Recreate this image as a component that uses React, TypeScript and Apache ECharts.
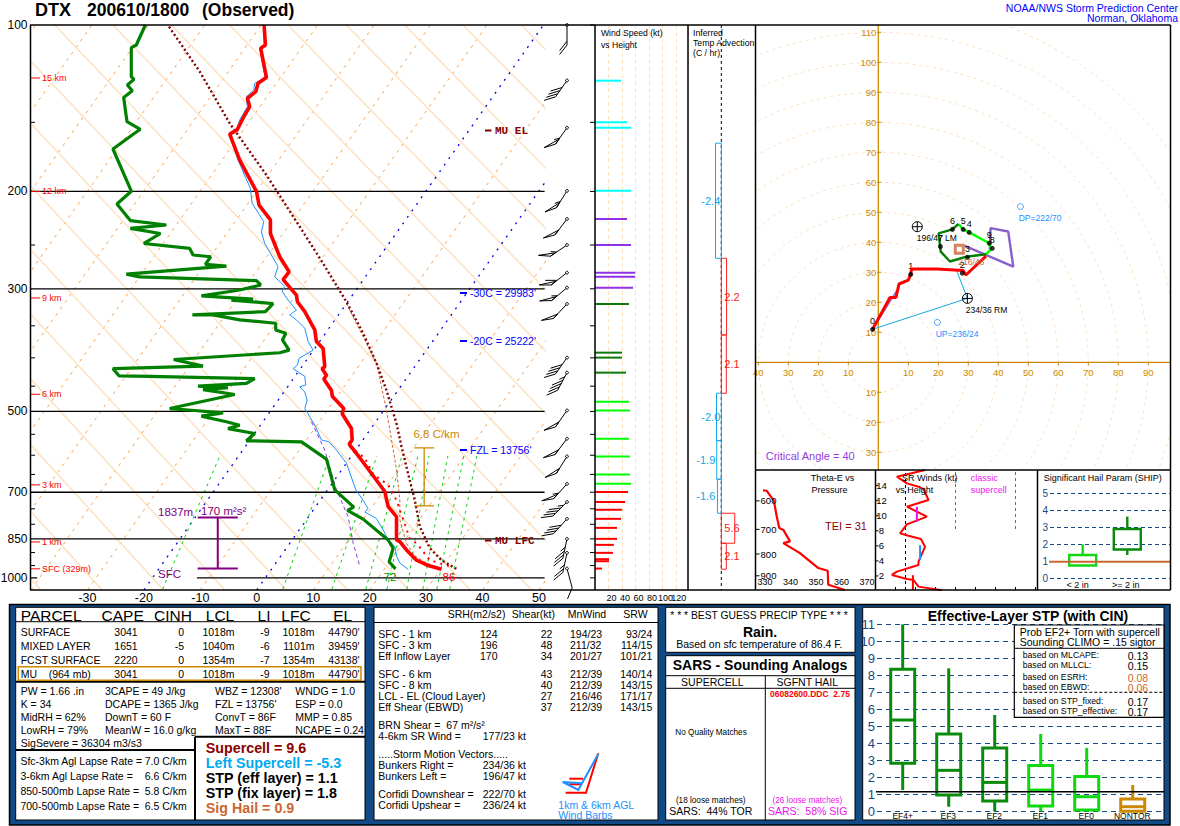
import React, { useEffect, useRef } from 'react';
import * as echarts from 'echarts';

// ---------- Skew-T data: [temperature read along the skewed bottom scale (C), pressure (mb)]
const temperature = [[1.3,100],[1.53,108.7],[0.7,110.2],[1.71,124.4],[0.23,127.5],[-0.18,132],[-1.66,135.7],[-1.25,140.5],[-2.13,145.5],[-3.49,154.8],[-4.79,157.5],[-3.02,175.5],[-0.06,200],[0.41,211.7],[2.42,225.2],[2.42,238.3],[4.07,262.5],[5.73,279.5],[4.67,288.7],[7.03,308],[7.2,316.7],[8.51,330],[10.28,356.1],[10.57,373.7],[11.76,384.7],[12.05,415],[11.58,418.5],[12.35,430],[11.88,437],[13.23,458],[13.41,470],[15.42,494],[15.13,505],[16.78,537],[16.9,563],[16.37,573],[18.55,612],[22.69,698],[23.28,743],[24.76,775],[24.76,854],[25.35,860],[26.53,890],[28.31,929],[30.37,950],[32.74,965]];
const dewpoint = [[-19.74,100],[-21.34,108.7],[-22.23,109.9],[-22.23,124],[-21.75,125.4],[-22.93,128.4],[-22.05,131.5],[-23.58,135.2],[-22.99,149.6],[-20.63,154.4],[-21.64,157],[-25.48,167.6],[-22.23,199.8],[-24.77,210.8],[-22.4,225.8],[-16.02,230],[-22.4,233.3],[-17.08,238.3],[-19.98,248.4],[-11.88,253.5],[-11.29,260.6],[-8.16,262.5],[-9.11,271],[-5.38,272.9],[-23.11,282.3],[-20.75,285.4],[-0.06,290],[0.7,295.3],[-3.02,301.5],[-9.81,309],[-0.65,313.2],[-4.5,314.5],[2.89,319],[1.53,330],[-11.41,334.5],[-7.75,334.5],[-3.02,341.5],[3.36,346.3],[3.36,356.1],[5.14,361],[4.55,371.3],[5.73,387.3],[4.07,391.6],[-14.72,402.7],[-9.52,414],[-25.48,418.5],[-24.41,431],[-18.98,432],[-0.36,436],[-1.84,445],[-10.41,450],[-5.09,453],[-9.52,456.6],[-3.91,466],[-15.43,494],[-11.59,497.5],[-5.97,503],[-9.81,510],[-5.38,522],[-3.02,529.5],[-5.09,537],[-0.36,548],[-1.84,565],[7.92,567.5],[12.35,610],[13.83,693],[17.19,745],[16.07,755],[18.85,783],[23.28,854],[24.17,884],[23.46,935],[24.58,963]];
const virtualTemp = [[1.24,100],[1.53,108.7],[0.53,110.2],[1.12,118.9],[1.53,124.4],[-0.36,127.5],[-0.54,131.1],[-1.84,134.8],[-1.66,140.5],[-3.02,148.5],[-3.49,153.7],[-4.91,157.5],[-3.31,175.5],[-1.13,197.5],[-0.83,210],[1.24,226.8],[0.82,236.6],[1.41,248.4],[3.78,273.5],[3.19,285.4],[4.96,297],[4.49,303],[5.55,314.5],[7.03,327.8],[5.85,334.5],[7.03,341.5],[8.51,353.7],[9.1,373.7],[9.98,387.3],[7.5,400.8],[7.21,412],[6.44,418.5],[8.51,432],[8.68,448],[7.62,451],[8.51,461],[8.92,477.5],[8.51,494],[9.1,505],[10.28,529.5],[11.46,563],[12.82,567.5],[14.12,587.5],[15.89,620],[17.55,693],[18.85,724],[19.74,750],[19.14,760],[21.21,781],[22.4,819],[23.28,854],[24.46,877],[24.76,913],[25.35,940],[26.83,965]];
const parcelTrace = [[-15.55,100.7],[-10.11,121.4],[-4.79,150.6],[1.71,186.8],[7.62,231.7],[11.76,270],[15.89,316.7],[18.85,361],[21.21,409],[22.99,458],[24.76,526],[25.65,579],[26.83,649],[28.01,724],[28.9,808],[30.67,884],[32.74,929],[35.1,960],[35.68,965]];
const mlParcelTrace = [[15.89,319],[21.21,409],[22.99,497.5],[24.76,636],[25.35,724],[25.35,785],[26.53,866],[28.01,913],[30.07,940],[32.44,960]];
const downdraftTrace = [[16.49,579],[19.14,607],[20.62,649],[23.28,679],[24.76,724],[27.12,849],[28.31,866],[30.67,929],[34.22,953]];
const wetBulbTrace = [[9.69,522],[12.05,587.5],[14.12,693],[16.19,775],[17.08,866],[18.26,953]];
const mixingBottom = [-16.67,4.61,13.3,19.33,23.05,26.6,29.43,31.91,34.2];
const mixingTop = [-6.56,12.94,21.28,25.71,28.55,30.5,33.86,36.7,39.0];
const pressureLabels = [100,200,300,500,700,850,1000];
const mandatoryLevels = [200,300,500,700,850];
const minorLevels = [150,250,350,400,450,550,600,650,750,800,900,950];
const heightLabels = ['15 km','12 km','9 km','6 km','3 km','1 km','SFC (329m)'];
const heightPressure = [124.7,200,311.7,465.5,678.9,861,963];
const srhLayer = [778,962];
const lapseLayer = [582,741];

// ---------- Wind data
const speedPressure = [126.1,150,153.4,199.5,224.3,250,280.5,285.2,298.6,319.5,391.4,399.6,425.4,480,498,560,603,650,676,699,729,753,782,812,850,871.6,901,925,933,962];
const speedKnots = [38.6,47.5,54,54,47.5,53.5,59.5,59.5,56.5,50.5,40,40,46,50.5,52,50.5,52,52,53.5,49,44.6,40,38.6,32.7,32.7,28,26.7,20.8,20.8,10.4];
const barbPressure = [100,126,153.4,199.5,224.3,250,280.5,298.6,319.5,399.6,425.4,498,560,603,676,729,782,850,901,962];
const barbSpeed = [20,39,54,54,50,54,60,56,50,40,46,52,50,52,54,45,40,33,27,10];
const barbDirection = [180,215,215,212,217,236,232,230,223,215,208,215,217,212,222,225,222,192,192,165];
const advTop = [163.6,264.2,363.6,463.5,564.6,663,764,865.6];
const advBottom = [264.2,363.6,463.5,564.6,663,764,865.6,964.6];
const advValue = [-2.4,2.2,2.1,-2.0,-1.9,-1.6,5.6,2.1];

// ---------- Hodograph data: [u, v] knots
const hodoLow = [[-1.9,11],[3.9,21.6],[5.9,21.6],[6.9,26.1],[10,27.4],[10.8,29.3],[11.1,31.1],[19.4,31.1],[28.3,30.6],[29.2,29.1],[35.9,35.4]];
const hodoMid = [[35.9,36],[29.4,35.2],[23.9,33.6],[20.8,36.9],[20.1,43],[24.7,44.3],[26.7,46.1]];
const hodoHigh = [[26.7,46.1],[28.3,44.3],[30.3,43.3],[37,39.7],[37.4,37.5],[35.9,36]];
const hodoCritical = [[28.8,38.8],[45,31.9],[43.3,43.6],[37.4,44.7],[37.2,37]];
const hodoInflow = [[-1.9,11],[6.1,23.8]];
const hodoStorm = [[-1.9,11],[29.7,21.3],[26.1,30.6]];
const hodoDots = [[-1.9,11],[10.8,29.3],[28,29.7],[29.7,35],[30.3,43.3],[28.3,44.3],[24.7,44.3],[20.7,38.6],[38,38],[37,39.7]];
const hodoDotLabels = ['0','1','2','3','4','5','6','7','8','9'];
const hodoRings = [10,20,30,40,50,60,70,80,90,100,110,120];
const hodoYTicks = [110,100,90,80,70,60,50,40,30,20,10,-10,-20,-30];
const hodoXTicks = [-40,-30,-20,-10,10,20,30,40,50,60,70,80,90];
const bunkersLeft = [13,45.2];
const bunkersRight = [29.7,21.3];
const corfidiDown = [47.4,51.9];
const corfidiUp = [19.7,13.3];
const meanWind = [27,37.7];

// ---------- Small panels
const thetaE = [[327,507.6],[327.6,526],[327,540],[327.4,550],[326.5,565],[330.7,568],[333.5,600],[334.6,653],[335.6,695],[337.2,702],[339.8,747],[337.2,754],[343.7,796],[350.9,863],[354.6,876],[354.8,945],[361.4,972]];
const thetaPressure = [600,700,800,900];
const srWinds = [[24.8,16.08],[10.7,15.19],[15.7,14.3],[21.5,13.86],[24,13.55],[26.5,12.09],[15.7,11.2],[25.7,9.88],[15.7,8.86],[12.3,7.66],[16.5,7.35],[22.7,6.91],[24.8,5.89],[21.5,3.9],[21.5,3.46],[10.7,2.57],[8.2,2.13],[15.7,1.59],[19,1.46],[21.5,0.58],[33.2,0.09]];
const srHeights = [14,12,10,8,6,4,2];
const shipBoxes = [[0,0.75,0.75,1.37,2],[1,1.37,1.69,2.9,3.63]];
const shipValue = 0.97;
const stpCategories = ['EF4+','EF3','EF2','EF1','EF0','NONTOR'];
const stpBoxes = [[0,1.25,2.82,8.35,11],[1,0.27,0.96,4.55,8.41],[2,0,0.61,3.73,5.67],[3,0,0.31,2.69,4.55],[4,0,0.08,2.04,3.73],[5,0,0,0.73,1.55]];
const stpMedians = [5.37,2.41,1.7,1.25,0.86,0.27];
const stpEffective = 1.15;

// ---------- Tables
const parcelHeader = ['PARCEL','CAPE','CINH','LCL','LI','LFC','EL'];
const parcelRows = [
  ['SURFACE','3041','0','1018m','-9','1018m',"44790'"],
  ['MIXED LAYER','1651','-5','1040m','-6','1101m',"39459'"],
  ['FCST SURFACE','2220','0','1354m','-7','1354m',"43138'"],
  ['MU    (964 mb)','3041','0','1018m','-9','1018m',"44790'"],
];
const indexRows = [
  ['PW = 1.66 .in','3CAPE = 49 J/kg',"WBZ = 12308'",'WNDG = 1.0'],
  ['K = 34','DCAPE = 1365 J/kg',"FZL = 13756'",'ESP = 0.0'],
  ['MidRH = 62%','DownT = 60 F','ConvT = 86F','MMP = 0.85'],
  ['LowRH = 79%','MeanW = 16.0 g/kg','MaxT = 88F','NCAPE = 0.24'],
];
const lapseRows = [
  ['Sfc-3km Agl Lapse Rate =','7.0 C/km'],
  ['3-6km Agl Lapse Rate =','6.6 C/km'],
  ['850-500mb Lapse Rate =','5.8 C/km'],
  ['700-500mb Lapse Rate =','6.5 C/km'],
];
const severeLines = ['Supercell = 9.6','Left Supercell = -5.3','STP (eff layer) = 1.1','STP (fix layer) = 1.8','Sig Hail = 0.9'];
const severeColors = ['#8b0000','#00aaf0','#000','#000','#cc6633'];
const shearHeader = ['SRH(m2/s2)','Shear(kt)','MnWind','SRW'];
const shearRows = [
  ['SFC - 1 km','124','22','194/23','93/24'],
  ['SFC - 3 km','196','48','211/32','114/15'],
  ['Eff Inflow Layer','170','34','201/27','101/21'],
  ['SFC - 6 km','','43','212/39','140/14'],
  ['SFC - 8 km','','40','212/39','143/15'],
  ['LCL - EL (Cloud Layer)','','27','216/46','171/17'],
  ['Eff Shear (EBWD)','','37','212/39','143/15'],
];
const motionRows = [
  ['BRN Shear =  67 m²/s²',''],
  ['4-6km SR Wind =','177/23 kt'],
  ['.....Storm Motion Vectors.....',''],
  ['Bunkers Right =','234/36 kt'],
  ['Bunkers Left =','196/47 kt'],
  ['Corfidi Downshear =','222/70 kt'],
  ['Corfidi Upshear =','236/24 kt'],
];
const probLabels = ['based on MLCAPE:','based on MLLCL:','based on ESRH:','based on EBWD:','based on STP_fixed:','based on STP_effective:'];
const probValues = ['0.13','0.15','0.08','0.06','0.17','0.17'];

const FONT = '"Liberation Sans", Arial, sans-serif';
const MONO = '"Liberation Mono", monospace';
const ORANGE = '#cc8800';
const PEACH = '#fde0bd';
const P_MAX = 1051.8;

const txt = (text: string, x: number, y: number, size = 10.5, fill = '#000', align = 'left', weight = 'normal', family = FONT, z = 30) => ({
  type: 'text', x, y, z, silent: true,
  style: { text, fill, font: `${weight} ${size}px ${family}`, align, verticalAlign: 'middle', textAlign: align, textVerticalAlign: 'middle' },
});
const rect = (x: number, y: number, w: number, h: number, fill: any, stroke: any = null, lw = 1, z = -1) => ({
  type: 'rect', z, silent: true, shape: { x, y, width: w, height: h }, style: { fill, stroke, lineWidth: lw },
});
const seg = (x1: number, y1: number, x2: number, y2: number, lw = 1.5, stroke = '#000', z = 12, dash?: number[]) => ({
  type: 'line', z, silent: true, shape: { x1, y1, x2, y2 }, style: { stroke, lineWidth: lw, lineDash: dash },
});
const poly = (points: number[][], stroke: string, lw: number) => ({
  type: 'polyline', z: 14, silent: true, shape: { points }, style: { stroke, lineWidth: lw, fill: 'none' },
});

const line = (grid: number, data: any[], color: string, width: number, dash?: any, z = 3, clip = true) => ({
  type: 'line', xAxisIndex: grid, yAxisIndex: grid, data, symbol: 'none', silent: true, clip, z,
  lineStyle: { color, width, type: dash || 'solid', cap: 'butt' }, animation: false,
});

const textEl = (text: string, x: number, y: number, size: number, fill: string, align = 'left') => ({
  type: 'text', x, y, silent: true,
  style: { text, fill, font: `${size}px ${FONT}`, align, verticalAlign: 'middle', textAlign: align, textVerticalAlign: 'middle' },
});
const lineEl = (x1: number, y1: number, x2: number, y2: number, stroke: string, lineWidth: number) => ({
  type: 'line', silent: true, shape: { x1, y1, x2, y2 }, style: { stroke, lineWidth },
});

// A tick mark with a label, placed through the axes of the grid.
const ticks = (grid: number, pts: number[][], labels: string[], o: any) => ({
  type: 'custom', xAxisIndex: grid, yAxisIndex: grid, clip: false, silent: true, z: 6, data: pts,
  renderItem: (p: any, api: any) => {
    const c = api.coord([api.value(0), api.value(1)]);
    const ch: any[] = [];
    if (o.tick) ch.push(lineEl(c[0] + o.tick[0], c[1] + o.tick[1], c[0] + o.tick[2], c[1] + o.tick[3], o.tickColor || o.color, o.tickWidth || 1));
    const label = labels[p.dataIndex];
    if (label) ch.push(textEl(label, c[0] + (o.dx || 0), c[1] + (o.dy || 0), o.size, o.color, o.align || 'left'));
    return { type: 'group', children: ch };
  },
});

const boxes = (grid: number, rows: number[][], medians: (number | null)[], colors: string[], width: number, lw: number) => ({
  type: 'custom', xAxisIndex: grid, yAxisIndex: grid, clip: false, silent: true, z: 5, data: rows,
  renderItem: (p: any, api: any) => {
    const x = api.value(0);
    const [cx, yLow] = api.coord([x, api.value(1)]);
    const yQ1 = api.coord([x, api.value(2)])[1];
    const yQ3 = api.coord([x, api.value(3)])[1];
    const yHigh = api.coord([x, api.value(4)])[1];
    const color = colors[p.dataIndex];
    const ch: any[] = [
      lineEl(cx, yHigh, cx, yQ3, color, lw),
      lineEl(cx, yQ1, cx, yLow, color, lw),
      { type: 'rect', silent: true, shape: { x: cx - width / 2, y: yQ3, width, height: yQ1 - yQ3 }, style: { fill: 'none', stroke: color, lineWidth: lw } },
    ];
    const m = medians[p.dataIndex];
    if (m !== null && m !== undefined) {
      const yM = api.coord([x, m])[1];
      ch.push(lineEl(cx - width / 2, yM, cx + width / 2, yM, color, lw));
    }
    return { type: 'group', children: ch };
  },
});

const speedColor = (p: number) => (p >= 699 ? '#ff0000' : p >= 480 ? '#00ff00' : p >= 319 ? '#0a780a' : p >= 205 ? '#9030e8' : '#00ffff');

const barbs = {
  type: 'custom', xAxisIndex: 1, yAxisIndex: 1, clip: false, silent: true, z: 6,
  data: barbPressure.map((p, i) => [0.44, p, barbSpeed[i], barbDirection[i]]),
  renderItem: (_: any, api: any) => {
    const [x0, y0] = api.coord([api.value(0), api.value(1)]);
    const speed = api.value(2);
    const a = ((api.value(3) - 180) * Math.PI) / 180;
    const ux = -Math.sin(a), uy = Math.cos(a);
    const r = (38 * Math.PI) / 180;
    const fx = ux * Math.cos(r) - uy * Math.sin(r), fy = ux * Math.sin(r) + uy * Math.cos(r);
    const L = 20;
    const F = 12;
    const ch: any[] = [lineEl(x0, y0, x0 + ux * L, y0 + uy * L, '#000', 1), { type: 'circle', silent: true, shape: { cx: x0, cy: y0, r: 1.4 }, style: { fill: '#fff', stroke: '#000', lineWidth: 1 } }];
    let d = L;
    let rest = Math.round(speed / 5) * 5;
    while (rest >= 50) {
      const a1 = [x0 + ux * d, y0 + uy * d];
      const a2 = [x0 + ux * (d - 6), y0 + uy * (d - 6)];
      ch.push({ type: 'polygon', silent: true, shape: { points: [a1, [a1[0] + fx * F, a1[1] + fy * F], a2] }, style: { fill: 'none', stroke: '#000', lineWidth: 1 } });
      d -= 7.5; rest -= 50;
    }
    while (rest >= 10) {
      ch.push(lineEl(x0 + ux * d, y0 + uy * d, x0 + ux * d + fx * F, y0 + uy * d + fy * F, '#000', 1));
      d -= 3.8; rest -= 10;
    }
    if (rest >= 5) ch.push(lineEl(x0 + ux * d, y0 + uy * d, x0 + ux * d + fx * F * 0.5, y0 + uy * d + fy * F * 0.5, '#000', 1));
    return { type: 'group', children: ch };
  },
};

const speedBars = {
  type: 'custom', xAxisIndex: 2, yAxisIndex: 2, clip: false, silent: true, z: 5,
  data: speedPressure.map((p, i) => [speedKnots[i], p]),
  renderItem: (_: any, api: any) => {
    const [x1, y] = api.coord([api.value(0), api.value(1)]);
    const x0 = api.coord([0, api.value(1)])[0];
    return lineEl(x0, y, x1, y, speedColor(api.value(1)), 2);
  },
};

const advection = {
  type: 'custom', xAxisIndex: 3, yAxisIndex: 3, clip: false, silent: true, z: 5,
  data: advValue.map((v, i) => [v, advTop[i], advBottom[i]]),
  renderItem: (_: any, api: any) => {
    const v = api.value(0);
    const [xv, yt] = api.coord([v, api.value(1)]);
    const [x0, yb] = api.coord([0, api.value(2)]);
    const color = v < 0 ? '#10a8e8' : '#ff2020';
    const lx = v < 0 ? (v <= -2 ? x0 - 1 : x0 - 6) : x0 + 3;
    return {
      type: 'group',
      children: [
        { type: 'rect', silent: true, shape: { x: Math.min(xv, x0), y: yt, width: Math.abs(xv - x0), height: yb - yt }, style: { fill: 'none', stroke: color, lineWidth: 1 } },
        textEl(v.toFixed(1), lx, (yt + yb) / 2, 11, color, v < 0 ? 'right' : 'left'),
      ],
    };
  },
};

const markers = {
  type: 'custom', xAxisIndex: 4, yAxisIndex: 4, clip: false, silent: true, z: 9,
  data: [bunkersLeft, bunkersRight],
  renderItem: (_: any, api: any) => {
    const [cx, cy] = api.coord([api.value(0), api.value(1)]);
    return {
      type: 'group',
      children: [
        { type: 'circle', silent: true, shape: { cx, cy, r: 5 }, style: { fill: 'none', stroke: '#000', lineWidth: 1 } },
        lineEl(cx - 5, cy, cx + 5, cy, '#000', 1),
        lineEl(cx, cy - 5, cx, cy + 5, '#000', 1),
      ],
    };
  },
};
const scatter = (grid: number, data: number[][], style: any, size: number, symbol = 'circle', z = 8) => ({
  type: 'scatter', xAxisIndex: grid, yAxisIndex: grid, data, symbol, symbolSize: size, silent: true, itemStyle: style, z, clip: false,
});

const ring = (r: number) => {
  const pts: number[][] = [];
  for (let a = 0; a <= 360; a += 4) pts.push([r * Math.cos((a * Math.PI) / 180), r * Math.sin((a * Math.PI) / 180)]);
  return pts;
};

const option = (): any => {
  const grids = [
    { left: 31, top: 25, width: 513.6, height: 565 },
    { left: 545, top: 25, width: 50, height: 565 },
    { left: 595, top: 25, width: 93, height: 565 },
    { left: 688, top: 25, width: 67.5, height: 565 },
    { left: 755.5, top: 25, width: 415, height: 445 },
    { left: 765, top: 470, width: 102, height: 120 },
    { left: 875.5, top: 470, width: 162, height: 120 },
    { left: 1050, top: 493.3, width: 120.5, height: 85 },
    { left: 877, top: 624.3, width: 287, height: 187 },
  ];
  const hidden = { show: false };
  const pAxis = (i: number) => ({ type: 'log', logBase: 10, min: 100, max: P_MAX, inverse: true, gridIndex: i, ...hidden });
  const xAxis: any[] = [
    { type: 'value', gridIndex: 0, min: -40, max: 51, interval: 10, axisLine: hidden, axisTick: hidden, splitLine: hidden,
      axisLabel: { fontFamily: FONT, fontSize: 12.5, color: '#000', margin: 1, formatter: (v: number) => (v === -40 || v % 10 !== 0 ? '' : String(v)), showMinLabel: true, hideOverlap: false } },
    { type: 'value', gridIndex: 1, min: 0, max: 1, ...hidden },
    { type: 'value', gridIndex: 2, min: 0, max: 138, interval: 20, axisLine: hidden, axisTick: hidden,
      splitLine: { show: true, lineStyle: { color: PEACH, type: [4, 3], width: 1 } },
      axisLabel: { fontFamily: FONT, fontSize: 9, color: '#000', margin: 3, padding: [0, 0, 0, 6], formatter: (v: number) => (v === 0 || v % 20 !== 0 ? '' : String(v)), hideOverlap: false } },
    { type: 'value', gridIndex: 3, min: -13.875, max: 14.25, ...hidden },
    { type: 'value', gridIndex: 4, min: -40.93, max: 97.4, ...hidden },
    { type: 'value', gridIndex: 5, min: 330, max: 370, interval: 10, axisLine: hidden, axisTick: hidden, splitLine: hidden,
      axisLabel: { inside: true, fontFamily: FONT, fontSize: 9, color: '#000', margin: 4, hideOverlap: false, showMinLabel: true, showMaxLabel: true } },
    { type: 'value', gridIndex: 6, min: 0, max: 81, interval: 10, axisLine: hidden, splitLine: hidden, axisLabel: hidden,
      axisTick: { show: true, inside: true, length: 3, lineStyle: { color: '#000' } } },
    { type: 'value', gridIndex: 7, min: -0.733, max: 1.969, ...hidden },
    { type: 'value', gridIndex: 8, min: -0.559, max: 5.68, ...hidden },
  ];
  const yAxis: any[] = [
    pAxis(0), pAxis(1), pAxis(2), pAxis(3),
    { type: 'value', gridIndex: 4, min: -35.9, max: 112.43, ...hidden },
    { type: 'log', logBase: 10, min: 507.6, max: 972, inverse: true, gridIndex: 5, ...hidden },
    { type: 'value', gridIndex: 6, min: 0.13, max: 16.08, ...hidden },
    { type: 'value', gridIndex: 7, min: 0, max: 5, interval: 1, axisLine: hidden, axisTick: hidden,
      splitLine: { show: true, lineStyle: { color: '#114a87', type: [4, 3], width: 1 } },
      axisLabel: { fontFamily: FONT, fontSize: 10, color: '#114a87', margin: 2, hideOverlap: false } },
    { type: 'value', gridIndex: 8, min: 0, max: 11, interval: 1, axisLine: hidden, axisTick: hidden,
      splitLine: { show: true, lineStyle: { color: '#114a87', type: [5, 4], width: 1 } },
      axisLabel: { fontFamily: FONT, fontSize: 13, color: '#114a87', margin: 2, hideOverlap: false } },
  ];

  const series: any[] = [];
  // skew-T background
  const skewSpan = 70.8;
  for (let t = -110; t <= 50; t += 10) {
    const blue = t === -20 || t === 0;
    series.push(line(0, [[t, P_MAX], [t + skewSpan, 100]], blue ? '#0000e6' : '#f9a050', blue ? 1.3 : 1, blue ? [2, 6] : [3, 5], blue ? 2 : 1));
  }
  for (let k = -10; k <= 10; k++) {
    series.push(line(0, [[(55 + 58.3 * k - 257) / 5.64, 100], [(593 + 61.3 * k - 257) / 5.64, P_MAX]], PEACH, 1.4, 'solid', 1));
  }
  mixingBottom.forEach((b, i) => series.push(line(0, [[b, 1048], [mixingTop[i], 602]], '#10d010', 1, [3, 4], 2)));
  mandatoryLevels.forEach((p) => series.push(line(0, [[-40, p], [51, p]], '#000', 1.3, 'solid', 3)));
  series.push(line(0, [[-10.6, 1000], [51, 1000]], '#000', 1.3, 'solid', 3));
  series.push(line(0, [[-40, 1000], [-38.9, 1000]], '#000', 1.3, 'solid', 3));
  series.push(ticks(0, minorLevels.map((p) => [-40, p]), minorLevels.map(() => ''), { tick: [-1, 0, 4, 0], color: '#000', size: 10 }));
  series.push(ticks(1, minorLevels.concat(mandatoryLevels, [100, 1000]).map((p) => [1, p]), minorLevels.concat(mandatoryLevels, [100, 1000]).map(() => ''), { tick: [-5, 0, 0, 0], color: '#000', size: 10 }));
  series.push(ticks(0, pressureLabels.map((p) => [-40, p]), pressureLabels.map(String), { dx: -3.5, dy: 0, size: 12, color: '#000', align: 'right' }));
  series.push(ticks(0, heightPressure.map((p) => [-40, p]), heightLabels, { tick: [-1, 0, 9, 0], dx: 11, size: 9, color: '#ff0000' }));
  // profile lines
  series.push(line(0, wetBulbTrace, '#8a3fe0', 1, [4, 3], 4));
  series.push(line(0, mlParcelTrace, '#cc6633', 1, [3, 2], 4));
  series.push(line(0, downdraftTrace, '#ff0000', 2, [2, 5], 4));
  series.push(line(0, parcelTrace, '#800000', 2.4, [2, 2.5], 4));
  series.push(line(0, virtualTemp, '#1e90ff', 1, 'solid', 5));
  series.push(line(0, dewpoint, '#008000', 3.2, 'solid', 6));
  series.push(line(0, temperature, '#ff0000', 3.6, 'solid', 7));
  // layer bars
  const bar = (x: number, top: number, bottom: number, half: number) => [[x - half, top], [x + half, top], [x, top], [x, bottom], [x - half, bottom], [x + half, bottom]];
  series.push(line(0, bar(-6.91, srhLayer[0], srhLayer[1], 3.55), '#800080', 2, 'solid', 8));
  series.push(line(0, bar(29.66, lapseLayer[0], lapseLayer[1], 1.77), ORANGE, 1.3, 'solid', 8));
  // winds
  series.push(barbs, speedBars);
  series.push(line(3, [[0, 100], [0, P_MAX]], '#000', 1, [3, 3], 3));
  series.push(advection);
  // hodograph
  hodoRings.forEach((r) => series.push(line(4, ring(r), PEACH, 1, [3, 4], 1)));
  series.push(line(4, [[0, -35.9], [0, 112.43]], ORANGE, 1.3, 'solid', 2));
  series.push(line(4, [[-40.93, 0], [97.4, 0]], ORANGE, 1.3, 'solid', 2));
  series.push(ticks(4, hodoYTicks.map((v) => [0, v]), hodoYTicks.map((v) => String(Math.abs(v))), { tick: [-1, 0, 3, 0], dx: -2, size: 9.5, color: ORANGE, align: 'right' }));
  series.push(ticks(4, hodoXTicks.map((v) => [v, 0]), hodoXTicks.map((v) => String(Math.abs(v))), { tick: [0, 0, 0, 3], dy: 10, size: 9.5, color: ORANGE, align: 'center' }));
  series.push(line(4, hodoInflow, '#9060d8', 1.5, 'solid', 3));
  series.push(line(4, hodoStorm, '#10a8e0', 1, 'solid', 4));
  series.push(line(4, hodoCritical, '#8a60cc', 2.4, 'solid', 3));
  series.push(line(4, hodoHigh, '#00ff00', 2.4, 'solid', 4));
  series.push(line(4, hodoMid, '#008000', 2.4, 'solid', 5));
  series.push(line(4, hodoLow, '#ff0000', 3, 'solid', 6));
  series.push(scatter(4, hodoDots, { color: '#000' }, 5));
  series.push(ticks(4, hodoDots, hodoDotLabels, { dy: -8, size: 9, color: '#000', align: 'center' }));
  series.push(markers);
  series.push(scatter(4, [corfidiDown, corfidiUp], { color: '#fff', borderColor: '#1e90ff', borderWidth: 1 }, 6));
  series.push(scatter(4, [meanWind], { color: 'rgba(0,0,0,0)', borderColor: '#cc6633', borderWidth: 3 }, 8, 'rect', 9));
  // theta-e
  series.push(line(5, thetaE, '#ff0000', 2.2, 'solid', 4, false));
  series.push(ticks(5, thetaPressure.map((p) => [326.3, p]), thetaPressure.map(String), { tick: [0, 0, 4, 0], dx: 5, size: 9.5, color: '#000' }));
  // storm-relative winds
  series.push(line(6, [[15, 0.13], [15, 16.08]], '#000', 1, [3, 3], 2));
  series.push(line(6, [[40, 8.24], [40, 16.08]], '#ee10ee', 1, [3, 3], 2));
  series.push(line(6, [[70, 8.24], [70, 16.08]], '#ee10ee', 1, [3, 3], 2));
  series.push(line(6, srWinds, '#ff0000', 2, 'solid', 4));
  series.push(line(6, [[20.7, 11.2], [20.7, 9.2]], '#ee10ee', 2, 'solid', 5));
  series.push(line(6, [[22.3, 6.1], [22.3, 4.1]], '#1e90ff', 2, 'solid', 5));
  series.push(line(6, [[18.7, 2.1], [18.7, 0.13]], '#ff0000', 2, 'solid', 5));
  series.push(ticks(6, srHeights.map((h) => [0, h]), srHeights.map(String), { tick: [0, 0, 3, 0], dx: 6, size: 9.5, color: '#000', align: 'center' }));
  // SHIP
  series.push(boxes(7, shipBoxes, [null, null], ['#10d810', '#0a8a0a'], 27, 2.4));
  series.push(line(7, [[-1.013, shipValue], [1.969, shipValue]], '#cc6633', 2, 'solid', 6, false));
  // STP
  series.push(boxes(8, stpBoxes, stpMedians, ['#0a8a0a', '#0a8a0a', '#0a8a0a', '#10d810', '#10d810', '#cc8800'], 24, 3));
  series.push(line(8, [[-0.87, stpEffective], [5.68, stpEffective]], '#000', 1.6, 'solid', 6, false));

  // ---------- page furniture
  const g: any[] = [];
  g.push(txt('DTX', 35, 10, 18, '#000', 'left', 'bold'));
  g.push(txt('200610/1800', 87, 10, 17.5, '#000', 'left', 'bold'));
  g.push(txt('(Observed)', 202, 10, 17.5, '#000', 'left', 'bold'));
  g.push(txt('NOAA/NWS Storm Prediction Center', 1178, 8, 10.5, '#0000ff', 'right'));
  g.push(txt('Norman, Oklahoma', 1178, 17.5, 10.5, '#0000ff', 'right'));
  // frames
  g.push(seg(30, 25, 1170.5, 25), seg(30, 590, 1170.5, 590), seg(30.5, 25, 30.5, 590));
  g.push(seg(595, 25, 595, 590), seg(688, 25, 688, 590), seg(755.5, 25, 755.5, 590), seg(1170.5, 25, 1170.5, 590));
  g.push(seg(755.5, 470, 1170.5, 470), seg(875.5, 470, 875.5, 590), seg(1037.5, 470, 1037.5, 590));
  // skew-T annotations
  g.push(seg(485, 130.5, 491.5, 130.5, 2, '#800000'), txt('MU EL', 495, 130.5, 11, '#800000', 'left', 'bold', MONO));
  g.push(seg(485, 540.5, 491.5, 540.5, 2, '#800000'), txt('MU LFC', 495, 540.5, 11, '#800000', 'left', 'bold', MONO));
  g.push(seg(460, 293, 467, 293, 2, '#0000ff'), txt("-30C = 29983'", 470, 293, 10.5, '#0000ff'));
  g.push(seg(460, 341, 467, 341, 2, '#0000ff'), txt("-20C = 25222'", 470, 341, 10.5, '#0000ff'));
  g.push(seg(460, 450, 467, 450, 2, '#0000ff'), txt("FZL = 13756'", 470, 450, 10.5, '#0000ff'));
  g.push(txt('6.8 C/km', 413.5, 434, 11.5, ORANGE));
  g.push(txt('1837m', 158, 512, 11.5, '#800080'), txt('170 m²s²', 201, 511, 11.5, '#800080'), txt('SFC', 158, 573.5, 11.5, '#800080'));
  g.push(txt('72', 383.5, 577, 11.5, '#0a8a0a'), txt('86', 442.5, 577, 11.5, '#ff0000'));
  // wind panel titles
  g.push(txt('Wind Speed (kt)', 601, 33, 8.6), txt('vs Height', 601, 45, 8.6));
  g.push(txt('Inferred', 693, 33, 8.7), txt('Temp Advection', 693, 43, 8.7), txt('(C / hr)', 693, 52.5, 8.7));
  // hodograph annotations
  g.push(txt('196/47 LM', 916.7, 238, 8.5), txt('234/36 RM', 965.7, 310, 8.5));
  g.push(txt('DP=222/70', 1018.7, 218, 8.5, '#1e90ff'), txt('UP=236/24', 935.7, 334, 8.5, '#1e90ff'));
  g.push(txt('216/46', 958.3, 261.7, 8.5, '#cc6633'));
  g.push(txt('Critical Angle = 40', 765.7, 456, 11, '#9040e0'));
  // small panels
  g.push(txt('Theta-E vs', 810.7, 478, 9), txt('Pressure', 811.5, 490, 9), txt('TEI = 31', 825, 526, 11, '#8b0000'));
  g.push(txt('SR Winds (kt)', 902, 478, 9), txt('vs Height', 895.7, 490, 9));
  g.push(txt('classic', 970.7, 478, 9, '#ee10ee'), txt('supercell', 970.7, 490, 9, '#ee10ee'));
  g.push(txt('Significant Hail Param (SHIP)', 1102.7, 478, 9, '#000', 'center'));
  g.push(txt('< 2 in', 1077.7, 585, 9, '#000', 'center'), txt('>= 2 in', 1125.7, 585, 9, '#000', 'center'));
  // lower panels
  g.push(rect(9.5, 604.5, 1160.5, 220.5, '#114a87', '#000', 1.5));
  g.push(rect(15.7, 607.3, 349.3, 212.7, '#fff', '#000', 1, -1));
  g.push(rect(374, 607.3, 284, 212.7, '#fff', '#000', 1, -1));
  g.push(rect(665.7, 607.3, 189.3, 45, '#fff', '#000', 1, -1));
  g.push(rect(665.7, 655.7, 189.3, 164.3, '#fff', '#000', 1, -1));
  g.push(rect(862.7, 607.3, 301.3, 212.7, '#fff', '#000', 1, -1));
  // parcel table
  const pCols = [20.7, 122.7, 173, 220, 264, 296, 342.7];
  parcelHeader.forEach((h, i) => g.push(txt(h, pCols[i], 615.5, 15.5, '#000', i === 0 ? 'left' : 'center')));
  g.push(seg(16, 621.7, 365, 621.7, 1));
  const rowY = [632, 646, 660, 674];
  const rowX: [number, string][] = [[20.7, 'left'], [137.7, 'right'], [184, 'right'], [234.5, 'right'], [269.5, 'right'], [314.5, 'right'], [359.5, 'right']];
  parcelRows.forEach((r, j) => r.forEach((c, i) => g.push(txt(c, rowX[i][0], rowY[j], 10.5, '#000', rowX[i][1]))));
  g.push(rect(18.3, 666.7, 342.7, 13.5, 'none', ORANGE, 1.5, 13));
  g.push(seg(16, 681.7, 365, 681.7, 2));
  const iCols = [20.7, 105, 215, 295.3];
  const iY = [691.3, 704.3, 717.3, 730.3];
  indexRows.forEach((r, j) => r.forEach((c, i) => g.push(txt(c, iCols[i], iY[j], 10.5))));
  g.push(txt('SigSevere = 36304 m3/s3', 20.7, 743.3, 10.5));
  g.push(seg(16, 750, 195, 750, 2), seg(195, 736.7, 195, 820, 2), seg(195, 736.7, 365, 736.7, 2));
  const lY = [761.3, 776.3, 791.3, 806.3];
  lapseRows.forEach((r, j) => { g.push(txt(r[0], 20.4, lY[j], 10.5), txt(r[1], 144.7, lY[j], 10.5)); });
  const sY = [747.7, 763, 778, 793, 808];
  severeLines.forEach((s, i) => g.push(txt(s, 205.7, sY[i], 14.3, severeColors[i], 'left', 'bold')));
  // shear table
  const hX = [447.7, 511.7, 567.7, 623.3];
  shearHeader.forEach((h, i) => g.push(txt(h, hX[i], 614.3, 10.5)));
  g.push(seg(374, 622.5, 658, 622.5, 1));
  const sRowY = [634.3, 645, 656, 674, 685, 696, 707];
  shearRows.forEach((r, j) => {
    g.push(txt(r[0], 378.3, sRowY[j], 10.5));
    g.push(txt(r[1], 480, sRowY[j], 10.5), txt(r[2], 540.7, sRowY[j], 10.5), txt(r[3], 570, sRowY[j], 10.5), txt(r[4], 652.3, sRowY[j], 10.5, '#000', 'right'));
  });
  const mRowY = [725, 736, 754, 765, 776, 794, 805];
  motionRows.forEach((r, j) => {
    g.push(txt(r[0], 378.3, mRowY[j], 10.5));
    if (r[1]) g.push(txt(r[1], 482.7, mRowY[j], 10.5));
  });
  g.push(poly([[598.3, 753.3], [586, 792.7], [565.7, 792.7]], '#ff0000', 2));
  g.push(seg(569.3, 778.7, 583.3, 778.7, 2, '#ff0000', 14), seg(569.3, 784.3, 581.7, 784.3, 2, '#ff0000', 14));
  g.push(poly([[598.3, 754], [578.3, 790], [562.7, 782], [581.7, 783.3]], '#1e90ff', 2));
  g.push(txt('1km & 6km AGL', 558.3, 805, 10.5, '#1e90ff'), txt('Wind Barbs', 558.3, 815, 10.5, '#1e90ff'));
  // precip + SARS
  g.push(txt('* * * BEST GUESS PRECIP TYPE * * *', 759, 615.7, 10.3, '#000', 'center'));
  g.push(txt('Rain.', 760, 631.7, 14, '#000', 'center', 'bold'));
  g.push(txt('Based on sfc temperature of 86.4 F.', 759.3, 644.3, 10.5, '#000', 'center'));
  g.push(txt('SARS - Sounding Analogs', 760, 665, 14, '#000', 'center', 'bold'));
  g.push(seg(665.7, 675.7, 855, 675.7, 1), seg(665.7, 688.3, 855, 688.3, 1), seg(765.3, 675.7, 765.3, 820, 1));
  g.push(txt('SUPERCELL', 712.3, 682, 10.5, '#000', 'center'), txt('SGFNT HAIL', 807.3, 682, 10.5, '#000', 'center'));
  g.push(txt('06082600.DDC  2.75', 770, 694, 8.5, '#ff0000', 'left', 'bold'));
  g.push(txt('No Quality Matches', 711, 732.7, 8.2, '#000', 'center'));
  g.push(txt('(18 loose matches)', 710.7, 800, 8.2, '#000', 'center'), txt('(26 loose matches)', 807.3, 800, 8.2, '#ee10ee', 'center'));
  g.push(txt('SARS:  44% TOR', 710.7, 811.3, 10.5, '#000', 'center'), txt('SARS:  58% SIG', 807.7, 811.3, 10.5, '#ee10ee', 'center'));
  // STP panel
  g.push(txt('Effective-Layer STP (with CIN)', 1028, 615.7, 14, '#000', 'center', 'bold'));
  const catX = [902.7, 948.3, 994.3, 1040.3, 1086.3, 1132.3];
  stpCategories.forEach((c, i) => g.push(txt(c, catX[i], 816, 8.5, '#000', 'center')));
  g.push(rect(1014.3, 625, 149.7, 92.3, '#fff', '#000', 1.2, 25));
  g.push(txt('Prob EF2+ Torn with supercell', 1019.7, 632, 10.5), txt('Sounding CLIMO = .15 sigtor', 1019.7, 642.3, 10.5));
  g.push(seg(1014.3, 648.3, 1164, 648.3, 1, '#000', 26), seg(1014.3, 692.3, 1164, 692.3, 1, '#000', 26, [3, 2]));
  const probLY = [654.7, 665, 676.7, 686.7, 700.7, 710.7];
  const probVY = [656, 666, 677.7, 687.7, 701.7, 711.7];
  probLabels.forEach((l, i) => {
    g.push(txt(l, 1022.7, probLY[i], 8.7));
    g.push(txt(probValues[i], 1127.7, probVY[i], 10.5, i === 2 || i === 3 ? '#cc6633' : '#000'));
  });

  return { animation: false, backgroundColor: '#fff', grid: grids, xAxis, yAxis, series, graphic: { elements: g } };
};

export default function App() {
  const ref = useRef<HTMLDivElement>(null);
  useEffect(() => {
    document.body.style.margin = '0';
    const chart = echarts.init(ref.current!, undefined, { renderer: 'svg' });
    chart.setOption(option());
    return () => chart.dispose();
  }, []);
  return <div ref={ref} style={{ position: 'absolute', left: 0, top: 0, width: 1180, height: 826 }} />;
}
